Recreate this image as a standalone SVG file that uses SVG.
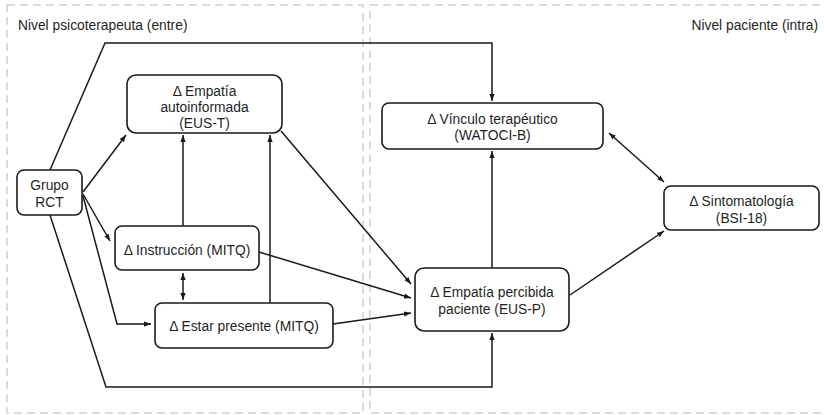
<svg xmlns="http://www.w3.org/2000/svg" width="824" height="415" viewBox="0 0 824 415">
  <style>
    .panel { fill: none; stroke: #cfcfcf; stroke-width: 1.5; stroke-dasharray: 8 5; }
    .box { fill: #ffffff; stroke: #1a1a1a; stroke-width: 1.6; }
    .lbl { font-family: "Liberation Sans", Arial, sans-serif; font-size: 13.8px; fill: #1f1f1f; text-anchor: middle; dominant-baseline: central; }
    .title { font-family: "Liberation Sans", Arial, sans-serif; font-size: 13.8px; fill: #1f1f1f; dominant-baseline: central; }
    .edge { fill: none; stroke: #1a1a1a; stroke-width: 1.5; }
    .arr { marker-end: url(#tip); }
    .both { marker-start: url(#tip); marker-end: url(#tip); }
  </style>
  <defs>
    <marker id="tip" viewBox="0 0 8 6" refX="8" refY="3" markerWidth="7" markerHeight="5.5" markerUnits="userSpaceOnUse" orient="auto-start-reverse">
      <path d="M0,0 L8,3 L0,6 z" fill="#1a1a1a"/>
    </marker>
  </defs>

  <rect width="824" height="415" fill="#ffffff"/>

  <!-- level panels -->
  <g id="panels">
    <rect class="panel" x="7" y="5" width="356" height="408"/>
    <rect class="panel" x="370" y="5" width="470" height="408"/>
    <text class="title" x="18" y="25">Nivel psicoterapeuta (entre)</text>
    <text class="title" x="818" y="25" text-anchor="end">Nivel paciente (intra)</text>
  </g>

  <!-- connectors -->
  <g id="connectors">
    <polyline class="edge arr" points="50,170 105,43 492,43 492,101"/>
    <polyline class="edge arr" points="50,215 106,387 492,387 492,333"/>
    <line class="edge arr" x1="83" y1="192" x2="126" y2="135"/>
    <line class="edge arr" x1="83" y1="194" x2="110" y2="241"/>
    <polyline class="edge arr" points="83,196 117,324 151,324"/>
    <line class="edge arr" x1="183" y1="226" x2="183" y2="135"/>
    <line class="edge arr" x1="270" y1="303" x2="270" y2="135"/>
    <line class="edge both" x1="183" y1="273" x2="183" y2="300"/>
    <line class="edge arr" x1="281" y1="131" x2="411" y2="284"/>
    <line class="edge arr" x1="259" y1="252" x2="411" y2="298"/>
    <line class="edge arr" x1="333" y1="324" x2="411" y2="313"/>
    <line class="edge arr" x1="492" y1="268" x2="492" y2="151"/>
    <line class="edge arr" x1="570" y1="295" x2="664" y2="231"/>
    <line class="edge both" x1="609" y1="133" x2="664" y2="182"/>
  </g>

  <!-- nodes -->
  <g id="grupo-rct">
    <rect class="box" x="17" y="170" width="65" height="45" rx="7"/>
    <text class="lbl" x="49.5" y="185">Grupo</text>
    <text class="lbl" x="49.5" y="202">RCT</text>
  </g>
  <g id="empatia-autoinformada">
    <rect class="box" x="127" y="75" width="155" height="58" rx="9"/>
    <text class="lbl" x="204.5" y="91">Δ Empatía</text>
    <text class="lbl" x="204.5" y="107">autoinformada</text>
    <text class="lbl" x="204.5" y="123">(EUS-T)</text>
  </g>
  <g id="instruccion">
    <rect class="box" x="115" y="226" width="144" height="44" rx="7"/>
    <text class="lbl" x="187" y="250">Δ Instrucción (MITQ)</text>
  </g>
  <g id="estar-presente">
    <rect class="box" x="155" y="303" width="178" height="45" rx="7"/>
    <text class="lbl" x="244" y="326">Δ Estar presente (MITQ)</text>
  </g>
  <g id="vinculo">
    <rect class="box" x="382" y="103" width="221" height="46" rx="7"/>
    <text class="lbl" x="492.5" y="119">Δ Vínculo terapéutico</text>
    <text class="lbl" x="492.5" y="135">(WATOCI-B)</text>
  </g>
  <g id="empatia-percibida">
    <rect class="box" x="415" y="268" width="154" height="63" rx="9"/>
    <text class="lbl" x="492" y="292">Δ Empatía percibida</text>
    <text class="lbl" x="492" y="309">paciente (EUS-P)</text>
  </g>
  <g id="sintomatologia">
    <rect class="box" x="664" y="186" width="155" height="44" rx="7"/>
    <text class="lbl" x="741.5" y="201">Δ Sintomatología</text>
    <text class="lbl" x="741.5" y="218">(BSI-18)</text>
  </g>
</svg>
